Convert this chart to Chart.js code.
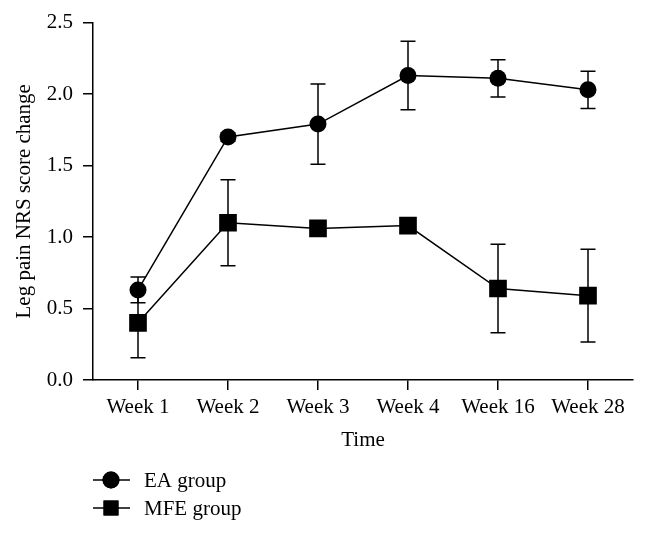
<!DOCTYPE html>
<html>
<head>
<meta charset="utf-8">
<script src="https://cdn.jsdelivr.net/npm/chart.js@4.4.1/dist/chart.umd.min.js"></script>
<style>
  html, body { margin: 0; padding: 0; background: #fff; }
  #wrap { width: 648px; height: 533px; position: relative; }
</style>
</head>
<body>
<div id="wrap"><canvas id="chart"></canvas></div>
<script>
const weeks = ["Week 1", "Week 2", "Week 3", "Week 4", "Week 16", "Week 28"];
const eaMean = [0.63, 1.70, 1.79, 2.13, 2.11, 2.03];
const eaErr = [0.09, 0.03, 0.28, 0.24, 0.13, 0.13];
const mfeMean = [0.40, 1.10, 1.06, 1.08, 0.64, 0.59];
const mfeErr = [0.245, 0.30, 0.03, 0.03, 0.31, 0.325];
const yTicks = [0, 0.5, 1.0, 1.5, 2.0, 2.5];

const serif = "'Liberation Serif', 'DejaVu Serif', serif";
const ink = "#000";
const fontSize = 21;

// error bars, drawn under the markers
const errorBars = {
    id: "errorBars",
    beforeDatasetsDraw(chart) {
        const ctx = chart.ctx;
        const y = chart.scales.y;
        ctx.save();
        ctx.strokeStyle = ink;
        ctx.lineWidth = 1.5;
        chart.data.datasets.forEach((ds, i) => {
            const meta = chart.getDatasetMeta(i);
            meta.data.forEach((pt, j) => {
                const top = y.getPixelForValue(ds.data[j] + ds.err[j]);
                const bot = y.getPixelForValue(ds.data[j] - ds.err[j]);
                ctx.beginPath();
                ctx.moveTo(pt.x, top); ctx.lineTo(pt.x, bot);
                ctx.moveTo(pt.x - 7.5, top); ctx.lineTo(pt.x + 7.5, top);
                ctx.moveTo(pt.x - 7.5, bot); ctx.lineTo(pt.x + 7.5, bot);
                ctx.stroke();
            });
        });
        ctx.restore();
    }
};

// legend with line + marker, bottom left
const lineLegend = {
    id: "lineLegend",
    afterDraw(chart) {
        const ctx = chart.ctx;
        ctx.save();
        ctx.font = fontSize + "px " + serif;
        ctx.textBaseline = "middle";
        ctx.fillStyle = ink;
        chart.data.datasets.forEach((ds, i) => {
            const yy = 480 + i * 28;
            ctx.strokeStyle = ink;
            ctx.lineWidth = 1.5;
            ctx.beginPath();
            ctx.moveTo(93, yy); ctx.lineTo(130, yy);
            ctx.stroke();
            Chart.helpers.drawPoint(ctx, {
                pointStyle: ds.pointStyle,
                radius: ds.pointStyle === "rect" ? 10.6 : 8.5,
                rotation: 0,
                borderWidth: 0
            }, 111, yy);
            ctx.fill();
            ctx.fillText(ds.label, 144, yy + 1);
        });
        ctx.restore();
    }
};

new Chart(document.getElementById("chart"), {
    type: "line",
    data: {
        labels: weeks,
        datasets: [
            {
                label: "EA group",
                data: eaMean,
                err: eaErr,
                borderColor: ink,
                backgroundColor: ink,
                borderWidth: 1.5,
                pointStyle: "circle",
                pointRadius: 8.5,
                pointHoverRadius: 8.5,
                pointBackgroundColor: ink,
                pointBorderWidth: 0,
                tension: 0
            },
            {
                label: "MFE group",
                data: mfeMean,
                err: mfeErr,
                borderColor: ink,
                backgroundColor: ink,
                borderWidth: 1.5,
                pointStyle: "rect",
                pointRadius: 12.5,
                pointHoverRadius: 12.5,
                pointBackgroundColor: ink,
                pointBorderWidth: 0,
                tension: 0
            }
        ]
    },
    options: {
        responsive: true,
        maintainAspectRatio: false,
        animation: false,
        layout: { padding: { top: 21, right: 15, bottom: 77, left: 0 } },
        plugins: {
            legend: { display: false },
            tooltip: { enabled: false }
        },
        scales: {
            x: {
                offset: true,
                afterFit: s => { s.height = 76; },
                border: { display: true, color: ink, width: 1.5 },
                grid: { drawOnChartArea: false, drawTicks: true, tickLength: 10, color: ink, lineWidth: 1.5, offset: false },
                ticks: { color: ink, padding: 5, font: { family: serif, size: fontSize }, maxRotation: 0, autoSkip: false },
                title: { display: true, text: "Time", color: ink, font: { family: serif, size: fontSize }, padding: { top: 0, bottom: 3 } }
            },
            y: {
                min: 0,
                max: 2.5,
                afterFit: s => { s.width = 93; },
                afterBuildTicks: s => { s.ticks = yTicks.map(v => ({ value: v })); },
                border: { display: true, color: ink, width: 1.5 },
                grid: { drawOnChartArea: false, drawTicks: true, tickLength: 10, color: ink, lineWidth: 1.5 },
                ticks: { color: ink, padding: 10, font: { family: serif, size: fontSize }, callback: v => v.toFixed(1) },
                title: { display: true, text: "Leg pain NRS score change", color: ink, font: { family: serif, size: fontSize }, padding: { top: 12, bottom: 0 } }
            }
        }
    },
    plugins: [errorBars, lineLegend]
});
</script>
</body>
</html>
